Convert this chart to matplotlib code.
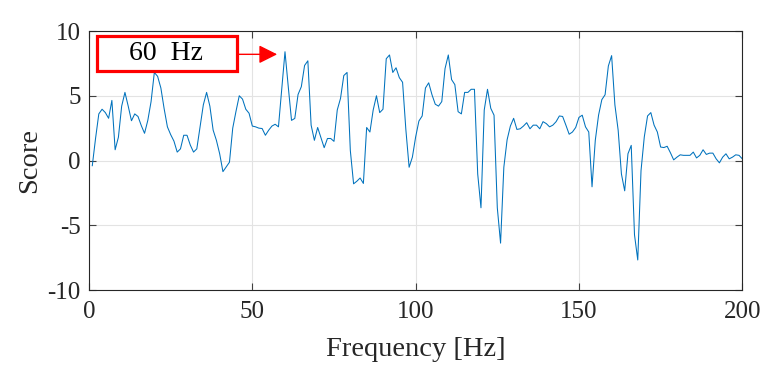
import numpy as np
import matplotlib
matplotlib.use("Agg")
import matplotlib.pyplot as plt
from matplotlib.patches import Rectangle

freq = np.arange(1, 201)
score = [
    -0.4, 1.7, 3.6, 3.96, 3.7, 3.26, 4.64, 0.83, 1.8, 4.2,
    5.26, 4.2, 3.07, 3.6, 3.4, 2.7, 2.1, 3.1, 4.55, 6.8,
    6.5, 5.6, 4.0, 2.6, 2.0, 1.5, 0.65, 0.9, 1.95, 1.95,
    1.2, 0.65, 0.9, 2.6, 4.3, 5.26, 4.2, 2.35, 1.56, 0.52,
    -0.86, -0.5, -0.13, 2.5, 3.8, 5.0, 4.74, 3.96, 3.65, 2.66,
    2.6, 2.5, 2.47, 1.95, 2.34, 2.66, 2.8, 2.6, 5.5, 8.4,
    5.7, 3.1, 3.25, 5.1, 5.7, 7.34, 7.7, 2.73, 1.56, 2.55,
    1.77, 0.99, 1.7, 1.7, 1.48, 3.9, 4.8, 6.56, 6.8, 0.78,
    -1.8, -1.6, -1.35, -1.77, 2.55, 2.2, 3.9, 5.0, 3.7, 3.96,
    7.86, 8.15, 6.8, 7.16, 6.4, 6.04, 2.4, -0.52, 0.26, 1.82,
    3.05, 3.44, 5.6, 6.0, 5.08, 4.35, 4.2, 4.55, 7.1, 8.15,
    6.25, 5.86, 3.77, 3.6, 5.26, 5.26, 5.5, 5.5, -1.04, -3.65,
    3.9, 5.5, 4.03, 3.5, -3.65, -6.38, -0.52, 1.6, 2.66, 3.26,
    2.4, 2.45, 2.66, 2.92, 2.45, 2.73, 2.73, 2.45, 3.0, 2.85,
    2.6, 2.73, 3.0, 3.44, 3.4, 2.73, 2.03, 2.2, 2.55, 3.33,
    3.5, 2.6, 2.2, -2.03, 1.56, 3.5, 4.7, 5.08, 7.3, 8.1,
    4.3, 2.34, -1.04, -2.34, 0.52, 1.17, -5.73, -7.68, -0.78, 1.82,
    3.44, 3.7, 2.73, 2.2, 1.04, 1.0, 1.1, 0.6, 0.05, 0.26,
    0.44, 0.4, 0.4, 0.4, 0.65, 0.2, 0.4, 0.83, 0.47, 0.57,
    0.57, 0.13, -0.18, 0.26, 0.52, 0.13, 0.26, 0.44, 0.4, 0.13,
]
xticks = [0, 50, 100, 150, 200]
yticks = [-10, -5, 0, 5, 10]
ytick_labels = ["-10", "-5", "0", "5", "10"]
annot_text = "60  Hz"

plt.rcParams['font.family'] = ['Liberation Serif', 'DejaVu Serif']

fig = plt.figure(figsize=(7.72, 3.71), dpi=100)
ax = fig.add_axes([0.1153, 0.2183, 0.8462, 0.6981])

ax.plot(freq, score, color='#0072BD', lw=0.75)

ax.set_xlim(0, 200)
ax.set_ylim(-10, 10)
ax.set_xticks(xticks)
ax.set_yticks(yticks)
ax.set_yticklabels(ytick_labels)
ax.grid(True, color='#e3e3e3', lw=0.8)
ax.set_axisbelow(True)
ax.tick_params(direction='in', length=5, width=0.8, color='#404040',
               top=True, right=True, labelsize=18, labelcolor='#262626')
ax.tick_params(axis='x', pad=8)
ax.tick_params(axis='y', pad=6)
for s in ax.spines.values():
    s.set_color('#262626')
    s.set_linewidth(0.8)

ax.set_xlabel('Frequency [Hz]', fontsize=20.5, color='#262626', labelpad=10)
ax.set_ylabel('Score', fontsize=20.5, color='#262626', labelpad=4)

# annotation box and arrow
rect = Rectangle((2.3, 6.9), 42.9, 2.7, facecolor='white', edgecolor='red',
                 lw=2.3, zorder=5, clip_on=False)
ax.add_patch(rect)
ax.text(23.7, 8.25, annot_text, ha='center', va='center', fontsize=20,
        color='black', zorder=6)
ax.annotate('', xy=(57.6, 8.2), xytext=(45.2, 8.2),
            arrowprops=dict(arrowstyle='-|>', color='red', lw=1,
                            mutation_scale=28, shrinkA=0, shrinkB=0),
            zorder=6)

fig.savefig('out.png', dpi=100)
